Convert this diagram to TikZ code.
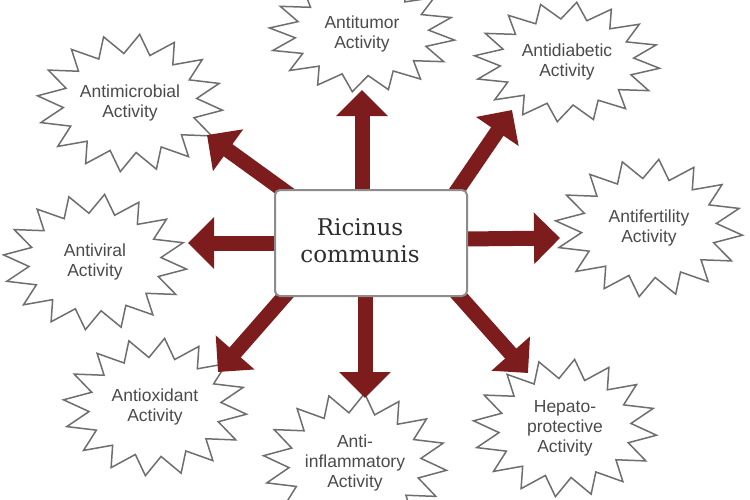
\documentclass[tikz,border=0pt]{standalone}
\usepackage{fontspec}
\setmainfont{Liberation Sans}
\newfontfamily\boxserif{DejaVu Serif}
\usetikzlibrary{arrows.meta,backgrounds,calc}
\definecolor{arrowred}{RGB}{125,28,28}
\definecolor{burstgray}{RGB}{110,110,110}
\definecolor{labelgray}{RGB}{75,75,75}
\definecolor{boxgray}{RGB}{140,140,140}
\definecolor{boxtextc}{RGB}{45,45,45}
\newcommand\drawburst[3]{%
  \draw[burstline,shift={(#1.center)}] plot[variable=\t,samples at={0,...,31}]
    ({(1-0.28*mod(\t,2))*#2*cos(\t*11.25+6)},{(1-0.28*mod(\t,2))*#3*sin(\t*11.25+6)}) -- cycle;}
\tikzset{
  burstline/.style={draw=burstgray,line width=1.5pt,fill=white,line join=miter},
  lab/.style={text=labelgray,align=center,font=\fontsize{17.5}{20}\selectfont,inner sep=0pt},
  centralbox/.style={draw=boxgray,line width=2pt,fill=white,rounded corners=5pt,minimum width=192pt,minimum height=106pt},
  centraltext/.style={text=boxtextc,align=center,font=\boxserif\fontsize{23}{27}\selectfont,inner sep=0pt},
  bigarrow/.style={draw=arrowred,line width=15pt,-{Triangle[width=50pt,length=26pt]}}
}
\begin{document}
\begin{tikzpicture}[x=1pt,y=-1pt]
\useasboundingbox (0,0) rectangle (750,499);
% labels
\node[lab] (tumor) at (362,34) {Antitumor\\Activity};
\node[lab] (diab) at (567,62) {Antidiabetic\\Activity};
\node[lab] (micro) at (130,103) {Antimicrobial\\Activity};
\node[lab] (fert) at (649,228) {Antifertility\\Activity};
\node[lab] (viral) at (95,262) {Antiviral\\Activity};
\node[lab] (oxid) at (155,407) {Antioxidant\\Activity};
\node[lab] (infl) at (355,463) {Anti-\\inflammatory\\Activity};
\node[lab] (hepa) at (565,428) {Hepato-\\protective\\Activity};
% central box
\node[centralbox] (rc) at (371,243) {};
\node[centraltext] (rct) at (360,241) {Ricinus\\communis};
% tips
\coordinate (tU) at (362,90);
\coordinate (tD) at (365,398);
\coordinate (tL) at (188,243);
\coordinate (tR) at (560,238);
\coordinate (tUL) at (207,135);
\coordinate (tUR) at (512,110);
\coordinate (tDL) at (218,372);
\coordinate (tDR) at (528,373);
\begin{pgfonlayer}{background}
\fill[white] (0,0) rectangle (750,499);
\drawburst{tumor}{93}{58}
\drawburst{diab}{93}{60}
\drawburst{micro}{93}{69}
\drawburst{fert}{94}{69}
\drawburst{viral}{92}{68}
\drawburst{oxid}{92}{69}
\drawburst{infl}{92}{70}
\drawburst{hepa}{92}{69}
\draw[bigarrow] ($(rc.north)+(-9,4)$) -- (tU);
\draw[bigarrow] ($(rc.south)+(-6,-4)$) -- (tD);
\draw[bigarrow] ($(rc.west)+(4,0)$) -- (tL);
\draw[bigarrow] ($(rc.east)+(-4,-4)$) -- (tR);
\draw[bigarrow] ($(rc.north west)+(16,6)$) -- (tUL);
\draw[bigarrow] ($(rc.north east)+(-14,6)$) -- (tUR);
\draw[bigarrow] ($(rc.south west)+(15,-6)$) -- (tDL);
\draw[bigarrow] ($(rc.south east)+(-13,-6)$) -- (tDR);
\end{pgfonlayer}
\end{tikzpicture}
\end{document}
